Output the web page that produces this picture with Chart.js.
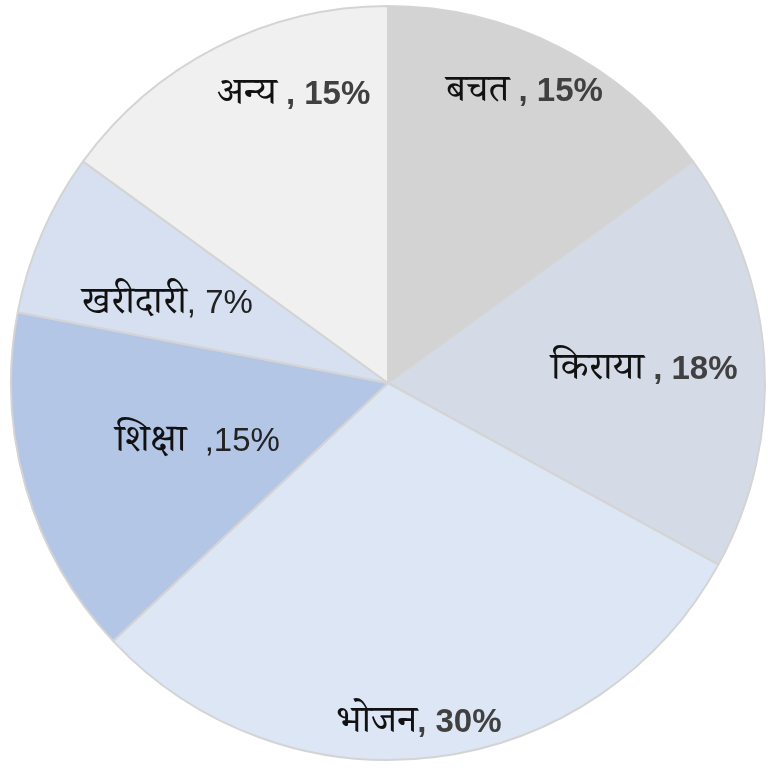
<!DOCTYPE html>
<html>
<head>
<meta charset="utf-8">
<script src="https://cdn.jsdelivr.net/npm/chart.js@4"></script>
<style>
  html, body { margin: 0; padding: 0; background: #fff; overflow: hidden; }
  #wrap { position: absolute; left: 0; top: 0; }
</style>
</head>
<body>
<div id="wrap"><canvas id="budgetPie" width="776" height="766"></canvas></div>
<script>
// categories and shares (%), clockwise from 12 o'clock
const categories = ['बचत', 'किराया', 'भोजन', 'शिक्षा', 'खरीदारी', 'अन्य'];
const shares = [15, 18, 30, 15, 7, 15];
const separators = [' , ', ' , ', ', ', '  ,', ', ', ' , '];

const sliceColors = ['#d3d3d3', '#d5dbe6', '#dce6f4', '#b4c6e6', '#d6e0f0', '#f0f0f0'];
// label placement: [fraction of radius, angle shift in degrees]
const labelPlace = [[0.857, -2], [0.681, 0.3], [0.90, 2], [0.527, -0.4], [0.623, -3.3], [0.809, 9]];
const boldValue = [true, true, true, false, false, true];

const hindiFont = '"Noto Serif Devanagari", "Noto Sans Devanagari", "Lohit Devanagari", "FreeSerif", serif';

const sliceLabels = {
  id: 'sliceLabels',
  afterDatasetsDraw(chart) {
    const ctx = chart.ctx;
    const arcs = chart.getDatasetMeta(0).data;
    ctx.save();
    ctx.textBaseline = 'alphabetic';
    arcs.forEach((arc, i) => {
      const p = labelPlace[i];
      const mid = (arc.startAngle + arc.endAngle) / 2 + p[1] * Math.PI / 180;
      const r = arc.outerRadius * p[0];
      const cx = arc.x + Math.cos(mid) * r;
      const cy = arc.y + Math.sin(mid) * r;

      const nameFont = '39px ' + hindiFont;
      const valFont = (boldValue[i] ? 'bold ' : '') + '33px "Liberation Sans", Arial, sans-serif';
      const valText = separators[i] + shares[i] + '%';
      ctx.font = nameFont;
      const w1 = ctx.measureText(categories[i]).width;
      ctx.font = valFont;
      const w2 = ctx.measureText(valText).width;
      const x = cx - (w1 + w2) / 2;
      const base = cy + 11;

      ctx.textAlign = 'left';
      ctx.font = nameFont;
      ctx.fillStyle = '#111111';
      ctx.fillText(categories[i], x, base);
      ctx.font = valFont;
      ctx.fillStyle = boldValue[i] ? '#404040' : '#222222';
      ctx.fillText(valText, x + w1, base);
    });
    ctx.restore();
  }
};

const ctx = document.getElementById('budgetPie').getContext('2d');
const budgetPie = new Chart(ctx, {
  type: 'pie',
  data: {
    labels: categories,
    datasets: [
      {
        data: shares,
        backgroundColor: sliceColors,
        borderColor: '#d4d4d4',
        borderWidth: 2
      }
    ]
  },
  options: {
    responsive: false,
    animation: false,
    layout: { padding: 5 },
    plugins: {
      legend: { display: false },
      tooltip: { enabled: false }
    }
  },
  plugins: [sliceLabels]
});
</script>
</body>
</html>
